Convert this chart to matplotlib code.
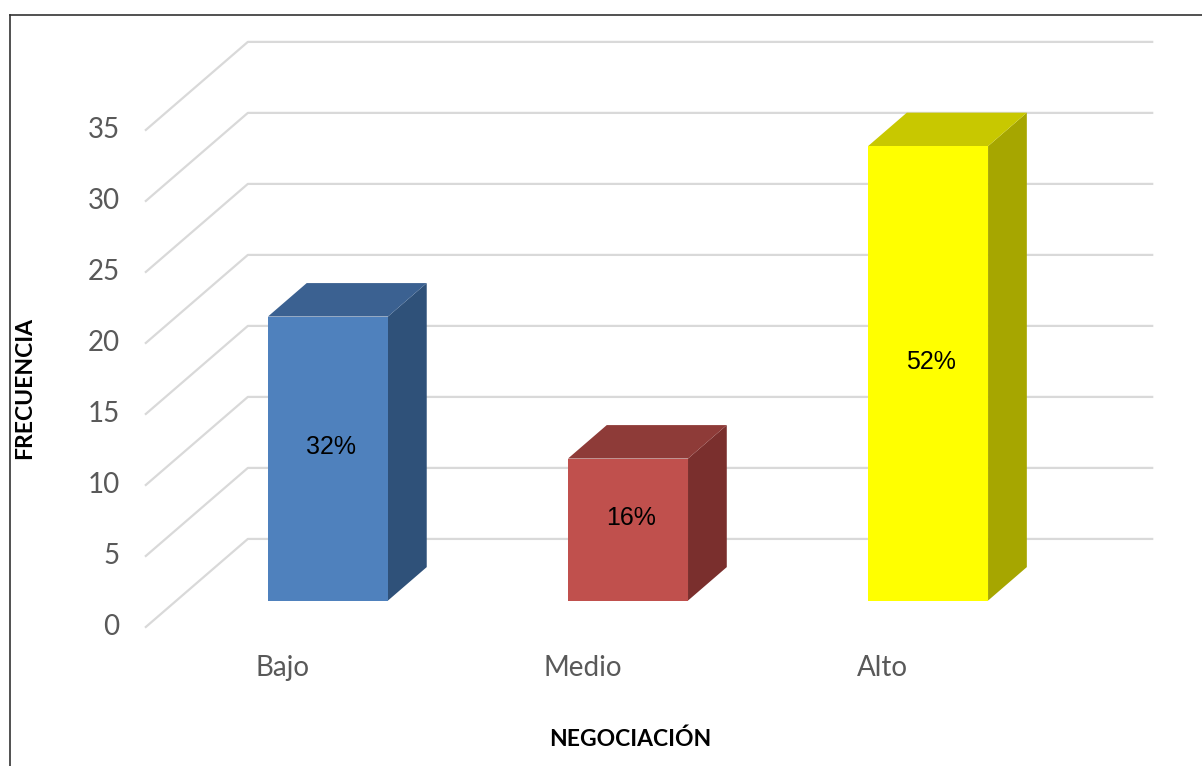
import matplotlib.pyplot as plt
from matplotlib.patches import Polygon
from matplotlib.lines import Line2D

# data
categories = ['Bajo', 'Medio', 'Alto']
frecuencia = [20, 10, 32]
porcentajes = ['32%', '16%', '52%']
y_ticks = [0, 5, 10, 15, 20, 25, 30, 35]

front_colors = ['#4F81BD', '#C0504D', '#FFFF00']
top_colors = ['#3B6191', '#8E3B38', '#C8C800']
side_colors = ['#2F5179', '#7A2F2D', '#A6A600']

# oblique "3d" projection: depth t in [0, 1]
DX = 0.34   # depth shift in category units
DY = 6.2    # depth shift in value units
T0, T1 = 0.30, 0.68   # bar front / back depth
HALF_W = 0.2
WALL_L, WALL_R = -0.505, 2.509


def proj(c, v, t):
    return (c + t * DX, v + t * DY)


fig = plt.figure(figsize=(12.02, 7.66), dpi=100)
ax = fig.add_axes([0, 0, 1, 1])
ax.set_xlim(-0.991, 3.015)
ax.set_ylim(-9.79, 44.15)
ax.axis('off')

grid_col = '#D9D9D9'
for v in y_ticks:
    pts = [proj(WALL_L, v, 0), proj(WALL_L, v, 1), proj(WALL_R, v, 1)]
    ax.add_line(Line2D([p[0] for p in pts], [p[1] for p in pts],
                       color=grid_col, lw=1.6, zorder=1))
    ax.text(WALL_L - 0.087, v, str(v), ha='right', va='center',
            fontsize=20, color='#595959', family='Lato')

for i, (cat, val) in enumerate(zip(categories, frecuencia)):
    l, r = i - HALF_W, i + HALF_W
    front = [proj(l, 0, T0), proj(r, 0, T0), proj(r, val, T0), proj(l, val, T0)]
    side = [proj(r, 0, T0), proj(r, 0, T1), proj(r, val, T1), proj(r, val, T0)]
    top = [proj(l, val, T0), proj(r, val, T0), proj(r, val, T1), proj(l, val, T1)]
    ax.add_patch(Polygon(side, closed=True, fc=side_colors[i], ec='none', zorder=2))
    ax.add_patch(Polygon(top, closed=True, fc=top_colors[i], ec='none', zorder=2))
    ax.add_patch(Polygon(front, closed=True, fc=front_colors[i], ec='none', zorder=3))
    cx, cy = proj(i, val / 2, T0)
    ax.text(cx + 0.01, cy + 0.8, porcentajes[i], ha='center', va='center',
            fontsize=18, color='black', family='Liberation Sans', zorder=4)
    ax.text(i - 0.05, -2.89, cat, ha='center', va='center',
            fontsize=20, color='#595959', family='Lato')

ax.text(-0.908, 16.8, 'FRECUENCIA', rotation=90, ha='center', va='center',
        fontsize=16.5, fontweight='bold', color='black', family='Lato')
ax.text(1.109, -7.92, 'NEGOCIACIÓN', ha='center', va='center',
        fontsize=16.5, fontweight='bold', color='black', family='Lato')

# outer frame (left and top edges visible)
bx, by = 9.5 / 1202, 1 - 15 / 766
fig.add_artist(Line2D([bx, bx], [0, by], transform=fig.transFigure, color='#333333', lw=1.2))
fig.add_artist(Line2D([bx, 1], [by, by], transform=fig.transFigure, color='#333333', lw=1.2))

plt.savefig('out.png', dpi=100)
